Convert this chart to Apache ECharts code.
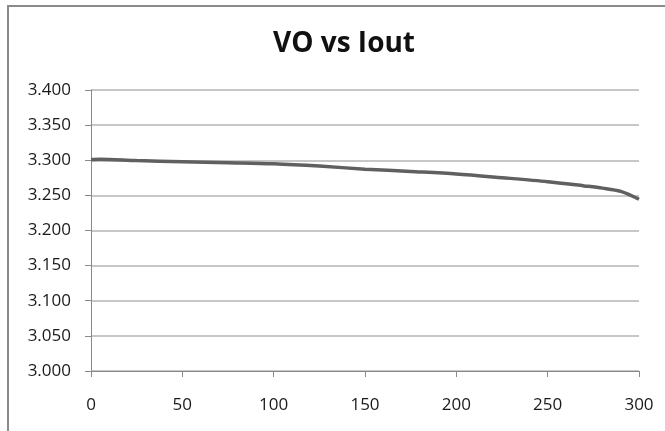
<!DOCTYPE html>
<html>
<head>
<meta charset="utf-8">
<script src="https://cdn.jsdelivr.net/npm/echarts@6/dist/echarts.min.js"></script>
<style>
html,body{margin:0;padding:0;background:#fff;}
#c{width:665px;height:431px;}
</style>
</head>
<body>
<div id="c"></div>
<script>
var titleText = "VO vs Iout";
var iout = [0, 5, 25, 50, 75, 100, 125, 150, 175, 200, 225, 250, 270, 280, 290, 300];
var vo = [3.301, 3.3015, 3.2995, 3.298, 3.2966, 3.295, 3.2917, 3.2873, 3.2840, 3.2805, 3.2752, 3.2695, 3.2635, 3.2603, 3.2557, 3.2445];
var xTicks = { min: 0, max: 300, interval: 50 };
var yTicks = { min: 3.0, max: 3.4, interval: 0.05 };

var points = iout.map(function (x, i) { return [x, vo[i]]; });
var chart = echarts.init(document.getElementById('c'));
chart.setOption({
  animation: false,
  backgroundColor: '#fff',
  title: {
    text: titleText,
    left: 339,
    textAlign: 'center',
    top: 25,
    textStyle: { fontFamily: 'Open Sans', fontWeight: 'bold', fontSize: 28, color: '#111' }
  },
  graphic: [{
    type: 'polyline',
    shape: { points: [[8, 440], [8, 6], [680, 6]] },
    style: { stroke: '#8a8a8a', lineWidth: 2, fill: null },
    silent: true
  }],
  grid: { left: 91, right: 26, top: 90, bottom: 60 },
  xAxis: {
    type: 'value',
    min: xTicks.min, max: xTicks.max, interval: xTicks.interval,
    axisLine: { show: true, onZero: false, lineStyle: { color: '#8a8a8a', width: 1 } },
    axisTick: { show: true, length: 6, inside: false, lineStyle: { color: '#8a8a8a' } },
    axisLabel: { margin: 26, fontFamily: 'Open Sans', fontSize: 17, color: '#1a1a1a' },
    splitLine: { show: false }
  },
  yAxis: {
    type: 'value',
    min: yTicks.min, max: yTicks.max, interval: yTicks.interval,
    axisLine: { show: true, lineStyle: { color: '#8a8a8a', width: 1 } },
    axisTick: { show: true, length: 6, lineStyle: { color: '#8a8a8a' } },
    axisLabel: { margin: 20, fontFamily: 'Open Sans', fontSize: 17, color: '#1a1a1a',
      formatter: function (v) { return v.toFixed(3); } },
    splitLine: { show: true, lineStyle: { color: '#b4b4b4', width: 1.5 } }
  },
  series: [{
    type: 'line',
    data: points,
    smooth: 0.3,
    showSymbol: false,
    lineStyle: { color: '#606060', width: 3.5 }
  }]
});
</script>
</body>
</html>
